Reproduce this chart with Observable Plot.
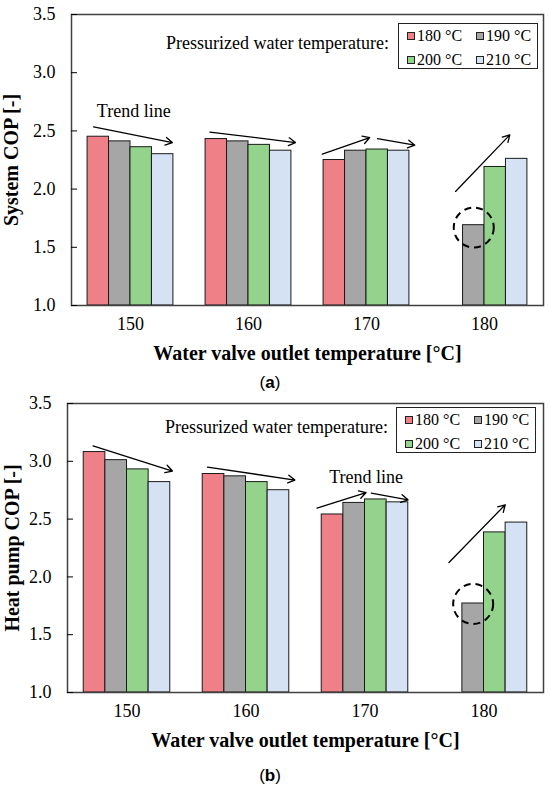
<!DOCTYPE html>
<html>
<head>
<meta charset="utf-8">
<script src="https://cdn.jsdelivr.net/npm/d3@7"></script>
<script src="https://cdn.jsdelivr.net/npm/@observablehq/plot@0.6"></script>
<style>
  html, body { margin: 0; padding: 0; background: #fff; }
  #wrap { position: relative; width: 550px; height: 785px; font-family: "Liberation Serif", "Times New Roman", serif; color: #000; }
  .chart { position: absolute; left: 0; }
  .chart svg { overflow: visible; }
  g[aria-label="y-axis label"] text, g[aria-label="fx-axis label"] text { font-weight: bold; font-size: 20px; }
  .cap { position: absolute; left: 0; width: 540px; text-align: center; font-family: "Liberation Sans", Arial, sans-serif; font-size: 17px; line-height: 22px; }
  .cap b { font-weight: bold; }
  .ptitle { position: absolute; font-size: 18px; line-height: 20px; white-space: nowrap; }
  .legend { position: absolute; border: 1.5px solid #222; box-sizing: border-box; background: #fff; font-size: 16px; }
  .legend .item { position: absolute; white-space: nowrap; line-height: 18px; }
  .legend .sw { display: inline-block; width: 6px; height: 6px; border: 1px solid #222; margin-right: 2px; vertical-align: 1px; }
</style>
</head>
<body>
<div id="wrap"></div>
<script>
// ---------- data ----------
const groups = [150, 160, 170, 180];
const seriesNames = ["180 °C", "190 °C", "200 °C", "210 °C"];
const seriesColors = ["#F08088", "#A6A6A6", "#94D38C", "#D4E2F4"];
const yTicks = [1.0, 1.5, 2.0, 2.5, 3.0, 3.5];

// (a) System COP, per pressurized water temperature, over groups 150..180
const sys180 = [2.45, 2.43, 2.25, null];
const sys190 = [2.41, 2.41, 2.33, 1.69];
const sys200 = [2.36, 2.38, 2.34, 2.19];
const sys210 = [2.30, 2.33, 2.33, 2.26];

// (b) Heat pump COP
const hp180 = [3.08, 2.89, 2.54, null];
const hp190 = [3.01, 2.87, 2.64, 1.77];
const hp200 = [2.93, 2.82, 2.67, 2.385];
const hp210 = [2.82, 2.75, 2.645, 2.47];

// trend arrows (x in bar-slot units within each group, y in COP)
const trendA = [
  {group: 150, x1: 0.28, y1: 2.534, x2: 3.95, y2: 2.40},
  {group: 160, x1: 0.20, y1: 2.49, x2: 4.19, y2: 2.40},
  {group: 170, x1: -0.06, y1: 2.30, x2: 2.15, y2: 2.443},
  {group: 170, x1: 2.51, y1: 2.434, x2: 4.25, y2: 2.377},
  {group: 180, x1: 0.65, y1: 1.98, x2: 3.18, y2: 2.466}
];
const trendB = [
  {group: 150, x1: 0.43, y1: 3.133, x2: 4.10, y2: 2.916},
  {group: 160, x1: 0.22, y1: 2.95, x2: 4.26, y2: 2.838},
  {group: 170, x1: -0.22, y1: 2.595, x2: 2.05, y2: 2.73},
  {group: 170, x1: 2.29, y1: 2.725, x2: 3.99, y2: 2.667},
  {group: 180, x1: 0.38, y1: 2.124, x2: 2.98, y2: 2.624}
];
const trendLabelA = [{group: 150, x: 2.15, y: 2.67, text: "Trend line"}];
const trendLabelB = [{group: 170, x: 2.05, y: 2.86, text: "Trend line"}];
const circleA = [{group: 180, x: 1.5, y: 1.67}];
const circleB = [{group: 180, x: 1.5, y: 1.766}];

function tidy(seriesArrays) {
  const rows = [];
  seriesArrays.forEach((arr, i) => {
    arr.forEach((v, g) => {
      if (v != null) rows.push({group: groups[g], series: seriesNames[i], i, value: v});
    });
  });
  return rows;
}

function makeChart({rows, arrows, labels, circles, yLabel, height, marginTop, marginBottom, marginLeft}) {
  return Plot.plot({
    width: 550,
    height, marginTop, marginBottom, marginLeft, marginRight: 7,
    style: {fontFamily: "'Liberation Serif', 'Times New Roman', serif", fontSize: "18px", color: "#000", background: "transparent"},
    x: {type: "linear", domain: [-0.75, 4.75], axis: null},
    y: {domain: [1, 3.5]},
    fx: {domain: groups, padding: 0},
    color: {domain: seriesNames, range: seriesColors},
    marks: [
      Plot.rectY(rows, {fx: "group", x1: "i", x2: d => d.i + 1, y1: 1, y2: "value", fill: "series", stroke: "#1a1a1a", strokeWidth: 1}),
      Plot.arrow(arrows, {fx: "group", x1: "x1", y1: "y1", x2: "x2", y2: "y2", stroke: "#000", strokeWidth: 1.3, headLength: 9}),
      Plot.text(labels, {fx: "group", x: "x", y: "y", text: "text", fontSize: 18}),
      Plot.dot(circles, {fx: "group", x: "x", y: "y", r: 20, stroke: "#000", strokeWidth: 2, strokeDasharray: "7,5", fill: "none"}),
      Plot.frame({facet: "super", stroke: "#404040", strokeWidth: 1.5}),
      Plot.axisY({ticks: yTicks, tickFormat: d3.format(".1f"), tickSize: -6, tickPadding: 22, label: yLabel, labelAnchor: "center", labelArrow: "none"}),
      Plot.axisFx({anchor: "bottom", tickSize: 0, tickPadding: 12, label: "Water valve outlet temperature [°C]", labelAnchor: "center", labelArrow: "none", labelOffset: 54})
    ]
  });
}

function legend(left, top) {
  const box = document.createElement("div");
  box.className = "legend";
  Object.assign(box.style, {left: left + "px", top: top + "px", width: "140px", height: "46px"});
  const pos = [[8, 3], [77, 3], [8, 27], [77, 27]];
  seriesNames.forEach((name, i) => {
    const it = document.createElement("div");
    it.className = "item";
    it.style.left = pos[i][0] + "px";
    it.style.top = pos[i][1] + "px";
    const sw = document.createElement("span");
    sw.className = "sw";
    sw.style.background = seriesColors[i];
    it.appendChild(sw);
    it.appendChild(document.createTextNode(name));
    box.appendChild(it);
  });
  return box;
}

const wrap = document.getElementById("wrap");

const c1 = makeChart({
  rows: tidy([sys180, sys190, sys200, sys210]), arrows: trendA, labels: trendLabelA, circles: circleA,
  yLabel: "System COP [-]", height: 372, marginTop: 14, marginBottom: 67, marginLeft: 71
});
c1.classList.add("chart"); c1.style.top = "0px";
wrap.appendChild(c1);

const capA = document.createElement("div");
capA.className = "cap"; capA.style.top = "372px";
capA.innerHTML = "(<b>a</b>)";
wrap.appendChild(capA);

const c2 = makeChart({
  rows: tidy([hp180, hp190, hp200, hp210]), arrows: trendB, labels: trendLabelB, circles: circleB,
  yLabel: "Heat pump COP [-]", height: 361, marginTop: 9, marginBottom: 63, marginLeft: 66
});
c2.classList.add("chart"); c2.style.top = "394px";
wrap.appendChild(c2);

const capB = document.createElement("div");
capB.className = "cap"; capB.style.top = "765px";
capB.innerHTML = "(<b>b</b>)";
wrap.appendChild(capB);

const t1 = document.createElement("div");
t1.className = "ptitle"; t1.style.left = "166px"; t1.style.top = "33px";
t1.textContent = "Pressurized water temperature:";
wrap.appendChild(t1);
const t2 = document.createElement("div");
t2.className = "ptitle"; t2.style.left = "165px"; t2.style.top = "417px";
t2.textContent = "Pressurized water temperature:";
wrap.appendChild(t2);

wrap.appendChild(legend(398, 23));
wrap.appendChild(legend(396, 407));
</script>
</body>
</html>
